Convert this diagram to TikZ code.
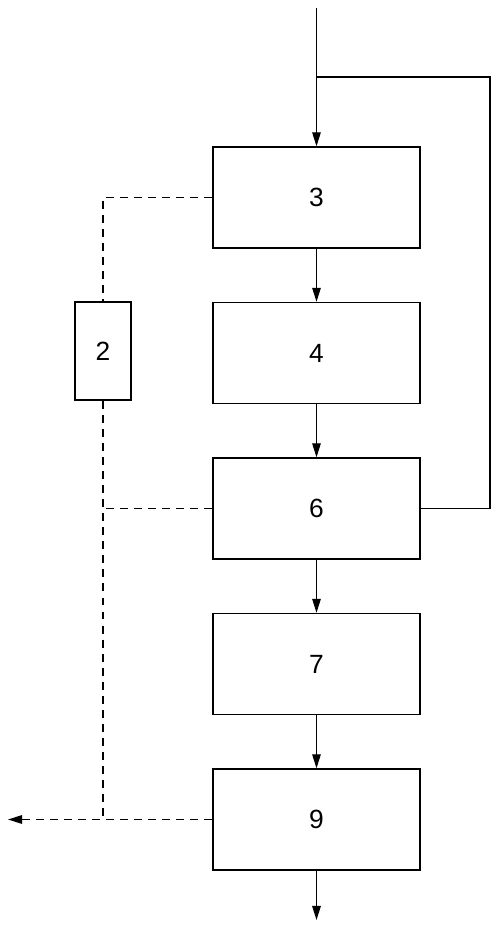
\documentclass[tikz,border=0pt]{standalone}
\usepackage{fontspec}
\setmainfont{Liberation Sans}
\usepackage{tikz}
\usetikzlibrary{arrows.meta, calc}

\tikzset{
  unit/.style={draw, line width=0.8pt, minimum width=4.14cm, minimum height=2.02cm, inner sep=0pt, font=\fontsize{15}{17}\selectfont},
  smallunit/.style={draw, line width=0.8pt, minimum width=1.12cm, minimum height=1.96cm, inner sep=0pt, font=\fontsize{15}{17}\selectfont},
  flow/.style={line width=0.8pt, -{Triangle[length=2.8mm, width=1.7mm]}},
  signal/.style={line width=0.8pt, dash pattern=on 4.5pt off 3.5pt}
}

\begin{document}
\begin{tikzpicture}
\useasboundingbox (0,0) rectangle (10,18.62);
% main line
\node[unit] (b3) at (6.33,14.67) {3};
\node[unit] (b4) at (6.33,11.56) {4};
\node[unit] (b6) at (6.33,8.45) {6};
\node[unit] (b7) at (6.33,5.34) {7};
\node[unit] (b9) at (6.33,2.23) {9};
\node[smallunit] (b2) at (2.06,11.6) {2};
\coordinate (feed) at (6.33,18.46);
\coordinate (join) at (6.33,17.08);
\coordinate (drain) at (6.33,0.22);
\coordinate (waste) at (0.16,2.25);
\draw[flow] (feed) -- (b3.north);
\draw[flow] (b3) -- (b4);
\draw[flow] (b4) -- (b6);
\draw[flow] (b6) -- (b7);
\draw[flow] (b7) -- (b9);
\draw[flow] (b9.south) -- (drain);
% recycle
\draw[line width=0.8pt] (b6.east) -| (9.8,17.08) -- (join);
% dashed lines
\draw[signal] (b3.west) -| (b2.north);
\draw[signal] (b2.south) -- (b2.south |- b9.west);
\draw[signal] (b6.west) -- (b6.west -| b2.south);
\draw[signal, -{Triangle[length=2.8mm, width=1.7mm]}] (b9.west) -- (b9.west -| waste);
\end{tikzpicture}
\end{document}
